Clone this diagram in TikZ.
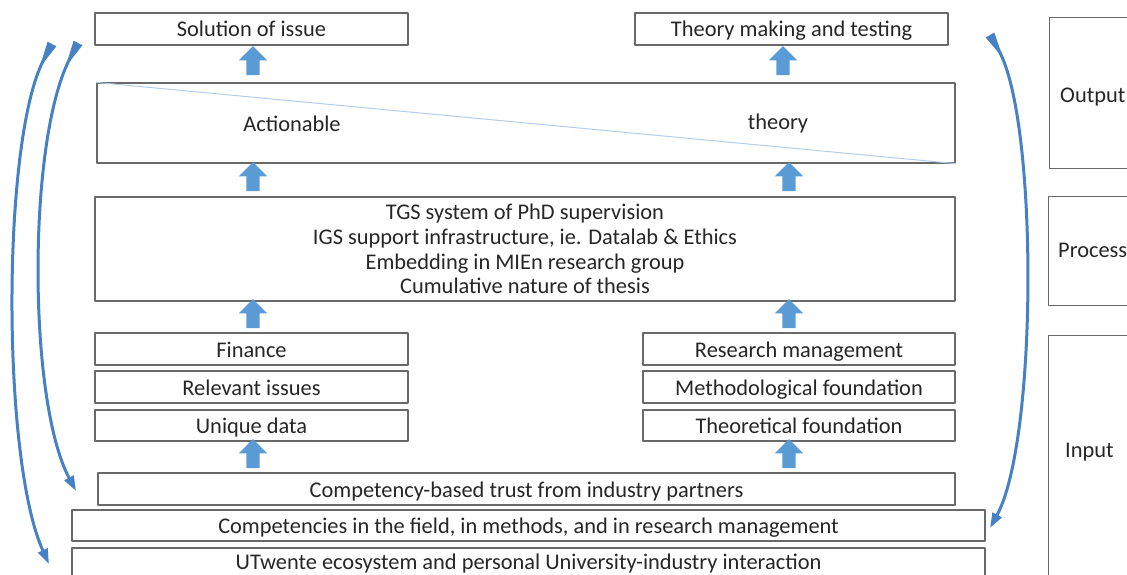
\documentclass[tikz,border=0pt]{standalone}
\usepackage{fontspec}
\setmainfont{Carlito}
\usetikzlibrary{shapes.arrows,arrows.meta}
\definecolor{boxgray}{RGB}{105,105,105}
\definecolor{arrowblue}{RGB}{91,155,213}
\definecolor{curveblue}{RGB}{70,130,195}
\definecolor{diagblue}{RGB}{180,205,235}
\begin{document}
\begin{tikzpicture}[line cap=round,line join=round,x=1pt,y=-1pt,
  box/.style={draw=boxgray,line width=1.2pt,inner sep=0pt,minimum height=32,text=black!85},
  row/.style={box,text height=17,text depth=1},
  lbl/.style={inner sep=0pt,text=black!85},
  uparrow/.style={single arrow,rotate=90,fill=arrowblue,minimum height=29,inner xsep=0pt,inner ysep=6.5pt,single arrow head extend=7.5pt},
  loop/.style={draw=curveblue,line width=3pt,{Triangle[reversed,length=28pt,width=9pt]}-{Triangle[length=15pt,width=10pt]}},
  font=\fontsize{22.4}{24.7}\selectfont]
\useasboundingbox (0,0) rectangle (1127,575);
\clip (0,0) rectangle (1127,575);
% output row
\node[row,minimum width=313] (sol) at (251.5,29) {Solution of issue};
\node[row,minimum width=313] (thmk) at (791.5,29) {Theory making and testing};
\node[box,minimum width=858,minimum height=80] (mid) at (526,123) {};
\draw[diagblue,line width=1pt] (mid.north west)--(mid.south east);
\node[lbl] (act) at (292,124) {Actionable};
\node[lbl] (thy) at (778,124) {theory};
% process
\node[box,minimum width=860,minimum height=104,align=center] (tgs) at (525,249) {TGS system of PhD supervision\\IGS support infrastructure, ie. Datalab \& Ethics\\Embedding in MIEn research group\\Cumulative nature of thesis};
% input
\node[row,minimum width=313] (fin) at (251.5,349) {Finance};
\node[row,minimum width=313] (rel) at (251.5,387) {Relevant issues};
\node[row,minimum width=313,minimum height=31] (uniq) at (251.5,425.5) {Unique data};
\node[row,minimum width=312] (resm) at (799,349) {Research management};
\node[row,minimum width=312] (meth) at (799,387) {Methodological foundation};
\node[row,minimum width=312,minimum height=31] (theo) at (799,425.5) {Theoretical foundation};
\node[row,minimum width=857] (trust) at (526.5,489) {Competency-based trust from industry partners};
\node[row,minimum width=913,minimum height=31] (comp) at (528.5,525.5) {Competencies in the field, in methods, and in research management};
\node[box,minimum width=913,minimum height=34,text height=8,text depth=0] (utw) at (528.5,565) {UTwente ecosystem and personal University-industry interaction};
% block arrows
\node[uparrow] (a1) at (253,64) {};
\node[uparrow] (a2) at (783,64) {};
\node[uparrow] (a3) at (253,180) {};
\node[uparrow] (a4) at (789,180) {};
\node[uparrow] (a5) at (253,317) {};
\node[uparrow] (a6) at (789,317) {};
\node[uparrow] (a7) at (253,457) {};
\node[uparrow] (a8) at (789,457) {};
% feedback loops
\coordinate (l1s) at (52,44); \coordinate (l1e) at (49,564);
\coordinate (l2s) at (78,43); \coordinate (l2e) at (76,491);
\coordinate (r1s) at (990,35); \coordinate (r1e) at (990,528);
\draw[loop] (l1s) .. controls (1.5,140) and (1.5,460) .. (l1e);
\draw[loop] (l2s) .. controls (27.5,140) and (27.5,400) .. (l2e);
\draw[loop] (r1s) .. controls (1038,120) and (1038,440) .. (r1e);
% stages
\node[box,anchor=north west,minimum width=110,minimum height=151] (outb) at (1049,17) {};
\node[box,anchor=north west,minimum width=110,minimum height=109] (procb) at (1048,196) {};
\node[box,anchor=north west,minimum width=110,minimum height=260] (inb) at (1048,335) {};
\node[lbl,anchor=west] (outl) at (1060,97) {Output};
\node[lbl,anchor=west] (procl) at (1058,250) {Process};
\node[lbl,anchor=west] (inl) at (1065,452) {Input};
\end{tikzpicture}
\end{document}
